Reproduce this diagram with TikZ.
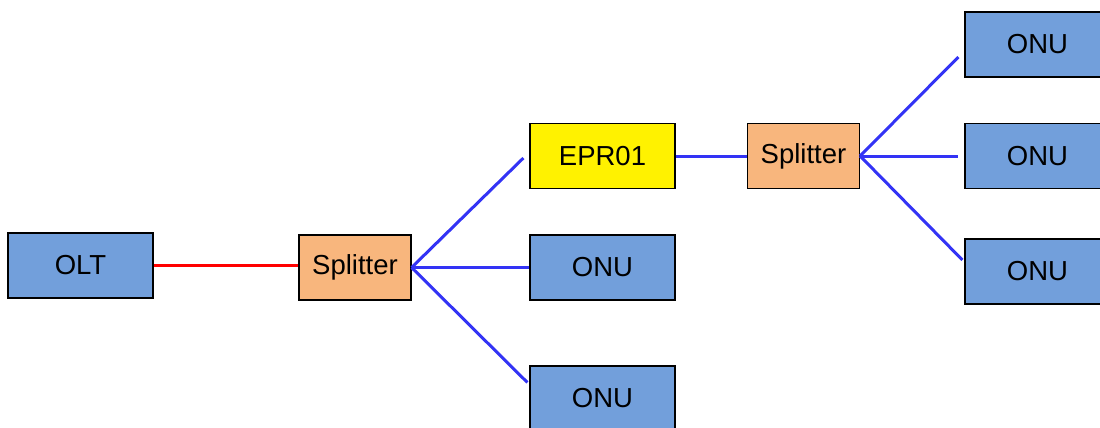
\documentclass[tikz,border=0pt]{standalone}
\usepackage{fontspec}
\setmainfont{Liberation Sans}
\usepackage{tikz}
\usetikzlibrary{positioning}

\definecolor{onublue}{RGB}{114,159,219}
\definecolor{splitorange}{RGB}{248,182,125}
\definecolor{fiberblue}{RGB}{51,51,245}

\begin{document}
\begin{tikzpicture}
            [x=1pt,y=-1pt,every node/.style={draw, rectangle, line width=1.2pt, inner sep=3pt, minimum height=65pt, font=\fontsize{27.5}{32}\selectfont},
             onu/.style={fill=onublue, minimum width=145pt},
             split/.style={fill=splitorange, minimum width=112pt},
             epr/.style={fill=yellow, minimum width=145pt},
             fiber/.style={draw=fiberblue, line width=3pt}]
          \useasboundingbox (0,0) rectangle (1100,428);

          \node[onu] (olt) at (80.5,265.5) {OLT};
          \node[split] (s1) at (355,267.5) {Splitter};

          \node[epr] (epr) at (602.5,156) {EPR01};
          \node[onu] (onu1) at (602.5,267.5) {ONU};
          \node[onu] (onu2) at (602.5,398.5) {ONU};

          \node[split] (s2) at (803.5,156) {Splitter};

          \node[onu] (onu3) at (1037.5,44.5) {ONU};
          \node[onu] (onu4) at (1037.5,156) {ONU};
          \node[onu] (onu5) at (1037.5,271.5) {ONU};

          \draw[red, line width=3pt] (olt.east) -- (olt.east -| s1.west);
          \draw[fiber] (epr) -- (s2);

          \foreach \to/\dx/\dy in {epr/-6/2, onu1/0/0, onu2/-2/-16}
            \draw[fiber] (s1.east) -- ([shift={(\dx,\dy)}]\to.west);

          \foreach \to/\dx/\dy in {onu3/-6/12.5, onu4/-6/0, onu5/-2/-11.5}
            \draw[fiber] (s2.east) -- ([shift={(\dx,\dy)}]\to.west);
        \end{tikzpicture}
\end{document}
